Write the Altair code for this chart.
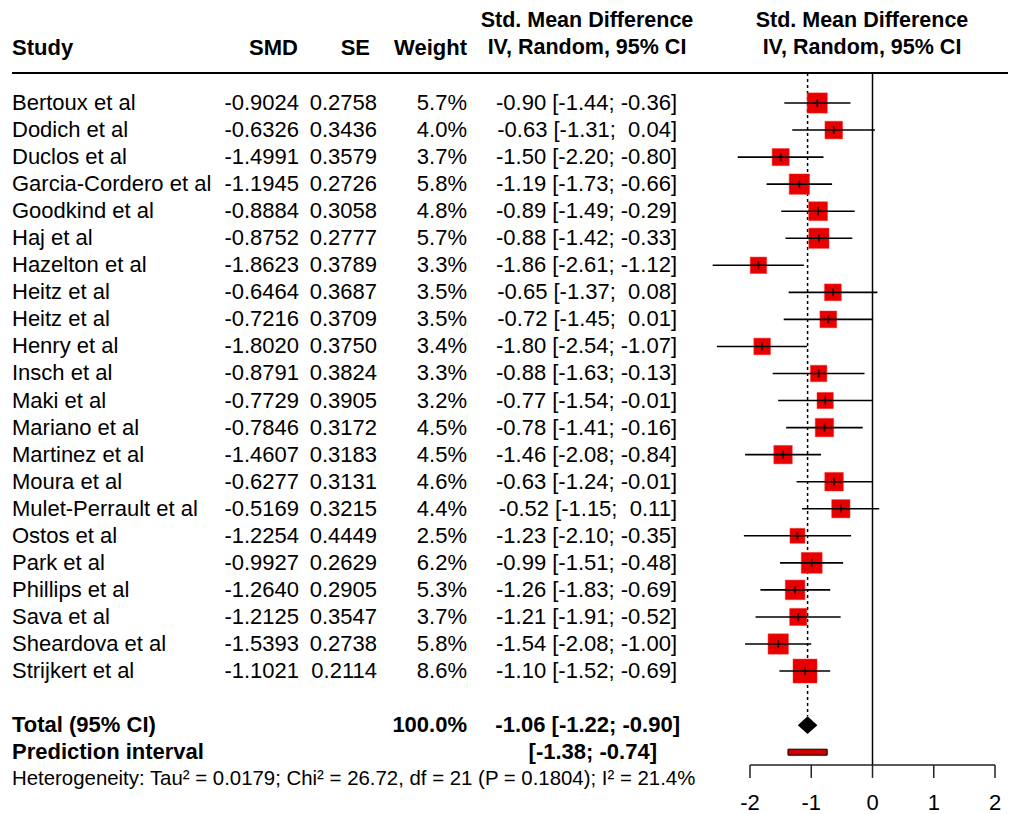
import altair as alt
import pandas as pd

# ---------------- data ----------------
studies = ["Bertoux et al", "Dodich et al", "Duclos et al", "Garcia-Cordero et al",
           "Goodkind et al", "Haj et al", "Hazelton et al", "Heitz et al", "Heitz et al",
           "Henry et al", "Insch et al", "Maki et al", "Mariano et al", "Martinez et al",
           "Moura et al", "Mulet-Perrault et al", "Ostos et al", "Park et al",
           "Phillips et al", "Sava et al", "Sheardova et al", "Strijkert et al"]
smd = [-0.9024, -0.6326, -1.4991, -1.1945, -0.8884, -0.8752, -1.8623, -0.6464, -0.7216,
       -1.8020, -0.8791, -0.7729, -0.7846, -1.4607, -0.6277, -0.5169, -1.2254, -0.9927,
       -1.2640, -1.2125, -1.5393, -1.1021]
se = [0.2758, 0.3436, 0.3579, 0.2726, 0.3058, 0.2777, 0.3789, 0.3687, 0.3709, 0.3750,
      0.3824, 0.3905, 0.3172, 0.3183, 0.3131, 0.3215, 0.4449, 0.2629, 0.2905, 0.3547,
      0.2738, 0.2114]
weight = [5.7, 4.0, 3.7, 5.8, 4.8, 5.7, 3.3, 3.5, 3.5, 3.4, 3.3, 3.2, 4.5, 4.5, 4.6, 4.4,
          2.5, 6.2, 5.3, 3.7, 5.8, 8.6]
lower = [-1.44, -1.31, -2.20, -1.73, -1.49, -1.42, -2.61, -1.37, -1.45, -2.54, -1.63,
         -1.54, -1.41, -2.08, -1.24, -1.15, -2.10, -1.51, -1.83, -1.91, -2.08, -1.52]
upper = [-0.36, 0.04, -0.80, -0.66, -0.29, -0.33, -1.12, 0.08, 0.01, -1.07, -0.13, -0.01,
         -0.16, -0.84, -0.01, 0.11, -0.35, -0.48, -0.69, -0.52, -1.00, -0.69]

total_est = -1.06
total_ci = [-1.22, -0.90]
pred_ci = [-1.38, -0.74]
ticks = [-2, -1, 0, 1, 2]
heterogeneity = ("Heterogeneity: Tau\u00b2 = 0.0179; Chi\u00b2 = 26.72, df = 21 "
                 "(P = 0.1804); I\u00b2 = 21.4%")

# ---------------- layout ----------------
FONT = "Liberation Sans"
RED = "#E60000"
FS = 22
SP = "\u00a0"
W, H = 1000, 806
xs = alt.Scale(domain=[-14.114, 2.212], nice=False, zero=False)
ys = alt.Scale(domain=[-3.512, 26.285], nice=False, zero=False, reverse=True)

ROW_TOTAL = len(studies) + 1
ROW_PRED = ROW_TOTAL + 1
ROW_HET = ROW_PRED + 1
P_HEAD1, P_HEAD2, P_LINE = -3.03, -2.04, -1.109
P_AXIS, P_TICK, P_LAB = 24.47, 24.95, 25.51


def ci_text(lo, hi):
    hs = f"{hi:.2f}"
    gap = SP if hi < 0 else SP + SP
    return f"[{lo:.2f};{gap}{hs}]"


df = pd.DataFrame({
    "row": list(range(len(studies))),
    "study": studies,
    "smd": smd,
    "weight": weight,
    "lower": lower,
    "upper": upper,
    "smd_txt": [f"{v:.4f}" for v in smd],
    "se_txt": [f"{v:.4f}" for v in se],
    "w_txt": [f"{v:.1f}%" for v in weight],
    "ci_txt": [f"{m:.2f}{SP}{ci_text(l, u)}" for m, l, u in zip(smd, lower, upper)],
})
one = pd.DataFrame({"a": [0]})


def X(field):
    return alt.X(field, scale=xs, axis=None, title=None)


def Y(field):
    return alt.Y(field, scale=ys, axis=None, title=None)


def YD(p):
    return alt.YDatum(p, type="quantitative", scale=ys, axis=None)


def XD(v):
    return alt.XDatum(v, type="quantitative", scale=xs, axis=None)


def txt(text, xpx, p, align="left", bold=False, size=FS):
    return alt.Chart(one).mark_text(
        text=text, align=align, baseline="middle", font=FONT, fontSize=size,
        fontWeight="bold" if bold else "normal", color="black"
    ).encode(x=alt.value(xpx), y=YD(p))


def col(field, xpx, align):
    return alt.Chart(df).mark_text(
        align=align, baseline="middle", font=FONT, fontSize=FS, color="black"
    ).encode(x=alt.value(xpx), y=Y("row:Q"), text=f"{field}:N")


layers = []
# headers
layers += [
    txt("Study", 4, P_HEAD2, bold=True),
    txt("SMD", 290, P_HEAD2, "right", True),
    txt("SE", 362, P_HEAD2, "right", True),
    txt("Weight", 459, P_HEAD2, "right", True),
    txt("Std. Mean Difference", 579, P_HEAD1, "center", True, 21.5),
    txt("IV, Random, 95% CI", 579, P_HEAD2, "center", True, 21.5),
    txt("Std. Mean Difference", 854, P_HEAD1, "center", True, 21.5),
    txt("IV, Random, 95% CI", 854, P_HEAD2, "center", True, 21.5),
]
# header rule
layers.append(alt.Chart(one).mark_rule(color="black", strokeWidth=2).encode(
    x=alt.value(4), x2=alt.value(1008), y=YD(P_LINE)))

# study columns
layers += [
    col("study", 4, "left"),
    col("smd_txt", 291, "right"),
    col("se_txt", 369, "right"),
    col("w_txt", 459, "right"),
    col("ci_txt", 669, "right"),
]

# reference lines
layers.append(alt.Chart(one).mark_rule(color="black", strokeWidth=1.5).encode(
    x=XD(0), y=YD(P_LINE), y2=alt.Y2Datum(P_AXIS)))
layers.append(alt.Chart(one).mark_rule(color="black", strokeWidth=1.5, strokeDash=[3, 3]).encode(
    x=XD(total_est), y=YD(P_LINE), y2=alt.Y2Datum(ROW_TOTAL - 0.33)))

# squares, CI lines, estimate ticks
layers.append(alt.Chart(df).mark_square(color=RED, opacity=1, stroke="#FF3030", strokeWidth=0.5).encode(
    x=X("smd:Q"), y=Y("row:Q"),
    size=alt.Size("weight:Q", scale=alt.Scale(domain=[2.5, 8.6], range=[225, 576]), legend=None)))
layers.append(alt.Chart(df).mark_rule(color="black", strokeWidth=1.6).encode(
    x=X("lower:Q"), x2="upper:Q", y=Y("row:Q")))
layers.append(alt.Chart(df).mark_tick(color="black", orient="vertical", size=8, thickness=1.8).encode(
    x=X("smd:Q"), y=Y("row:Q")))

# diamond for pooled estimate
dia = pd.DataFrame({
    "x": [total_ci[0], total_est, total_ci[1]],
    "y": [ROW_TOTAL, ROW_TOTAL - 0.33, ROW_TOTAL],
    "y2": [ROW_TOTAL, ROW_TOTAL + 0.33, ROW_TOTAL],
})
layers.append(alt.Chart(dia).mark_area(color="black", opacity=1, orient="vertical").encode(
    x=X("x:Q"), y=Y("y:Q"), y2="y2:Q"))

# prediction interval bar
pred = pd.DataFrame({"lo": [pred_ci[0]], "hi": [pred_ci[1]],
                     "y": [ROW_PRED - 0.11], "y2": [ROW_PRED + 0.11]})
layers.append(alt.Chart(pred).mark_rect(fill="#D00000", stroke="black", strokeWidth=1).encode(
    x=X("lo:Q"), x2="hi:Q", y=Y("y:Q"), y2="y2:Q"))

# total / prediction text
layers += [
    txt("Total (95% CI)", 4, ROW_TOTAL, bold=True),
    txt("100.0%", 459, ROW_TOTAL, "right", True),
    txt(f"{total_est:.2f}{SP}[{total_ci[0]:.2f};{SP}{total_ci[1]:.2f}]", 672, ROW_TOTAL, "right", True),
    txt("Prediction interval", 4, ROW_PRED, bold=True),
    txt(f"[{pred_ci[0]:.2f};{SP}{pred_ci[1]:.2f}]", 649, ROW_PRED, "right", True),
    txt(heterogeneity, 4, ROW_HET, size=20.4),
]

# x axis (drawn manually)
tk = pd.DataFrame({"t": ticks, "lab": [str(t) for t in ticks]})
layers.append(alt.Chart(one).mark_rule(color="#222222", strokeWidth=1.5).encode(
    x=XD(ticks[0]), x2=alt.X2Datum(ticks[-1]), y=YD(P_AXIS)))
layers.append(alt.Chart(tk).mark_rule(color="#222222", strokeWidth=1.5).encode(
    x=X("t:Q"), y=YD(P_AXIS), y2=alt.Y2Datum(P_TICK)))
layers.append(alt.Chart(tk).mark_text(font=FONT, fontSize=FS, baseline="top", align="center",
                                      color="black").encode(
    x=X("t:Q"), y=YD(P_LAB), text="lab:N"))

chart = alt.layer(*layers).properties(
    width=W, height=H, padding=0, autosize=alt.AutoSizeParams(type="none")
).configure_view(stroke=None).configure_axis(disable=True)

chart.save("out.html", embed_options={"renderer": "svg", "actions": False})
